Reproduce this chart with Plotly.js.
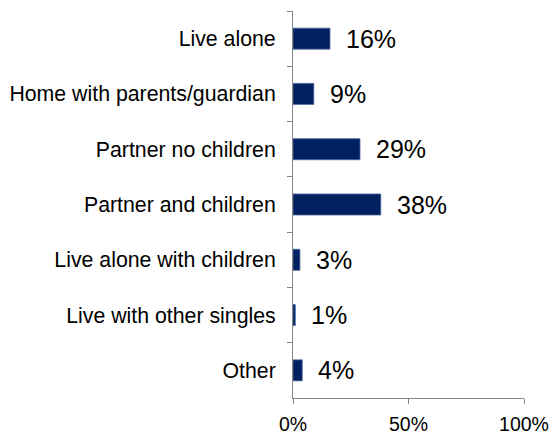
<!DOCTYPE html>
<html><head><meta charset="utf-8">
<script src="https://cdn.plot.ly/plotly-3.0.1.min.js"></script>
<style>html,body{margin:0;padding:0;background:#fff}</style>
</head><body>
<div id="chart" style="width:553px;height:434px"></div>
<script>
const categories = ["Live alone","Home with parents/guardian","Partner no children","Partner and children","Live alone with children","Live with other singles","Other"];
const values = [16, 9, 29, 38, 3, 1, 4];
const valueLabels = values.map(v => v + "%");

const trace = {
  type: "bar", orientation: "h",
  x: values, y: categories,
  marker: {color: "#00205F", line: {color: "#4A64A0", width: 0.8}},
  width: 0.38,
  hoverinfo: "none"
};
const annotations = values.map((v, i) => ({
  x: v, y: categories[i], xref: "x", yref: "y",
  text: valueLabels[i], showarrow: false, xanchor: "left", yanchor: "middle",
  xshift: 14, font: {family: "Liberation Sans, Arial, sans-serif", size: 25, color: "#000"}
}));
const layout = {
  width: 553, height: 434,
  margin: {l: 293, r: 29, t: 11, b: 36},
  paper_bgcolor: "#fff", plot_bgcolor: "#fff",
  showlegend: false,
  font: {family: "Liberation Sans, Arial, sans-serif", color: "#000"},
  xaxis: {range: [0, 100], dtick: 50, tick0: 0, ticksuffix: "%", showgrid: false, zeroline: false,
          showline: true, linecolor: "#868686", linewidth: 1, ticks: "outside", ticklen: 5, tickcolor: "#868686",
          ticklabelstandoff: 4, tickfont: {size: 19.5}, fixedrange: true},
  yaxis: {autorange: "reversed", type: "category", showgrid: false, zeroline: false,
          showline: true, linecolor: "#868686", linewidth: 1, ticks: "outside", ticklen: 5, tickcolor: "#868686",
          tickson: "boundaries", ticklabelstandoff: 12, tickfont: {size: 21.3}, fixedrange: true},
  annotations: annotations
};
Plotly.newPlot("chart", [trace], layout, {staticPlot: true, displayModeBar: false});
</script>
</body></html>
